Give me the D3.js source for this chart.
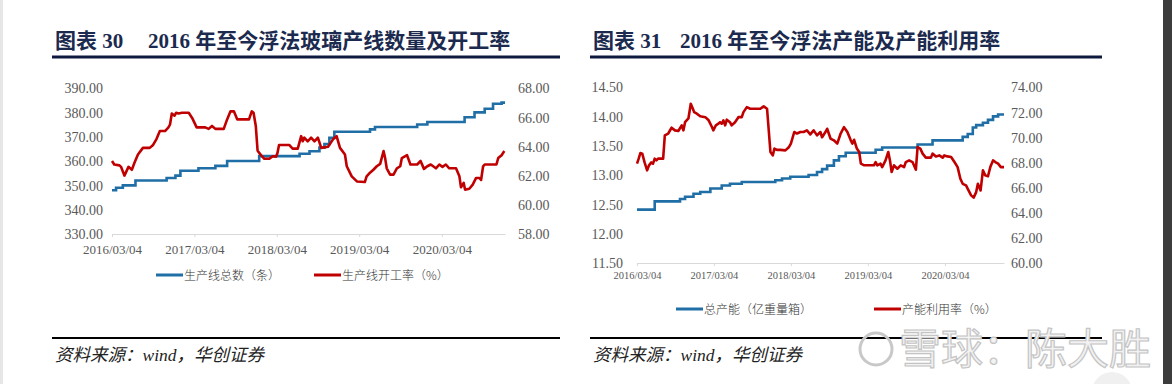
<!DOCTYPE html>
<html lang="zh">
<head>
<meta charset="utf-8" />
<title>浮法玻璃产线及产能</title>
<script src="https://d3js.org/d3.v7.min.js"></script>
<style>
  body{margin:0;background:#fff;}
  svg{display:block;}
  .tick text{fill:#595959;font-family:"Liberation Serif","Times New Roman",serif;}
  .title{font-family:"Liberation Serif","Noto Sans CJK SC",serif;font-weight:700;fill:#1b2a4e;font-size:21px;}
  .legend{font-family:"Noto Sans CJK SC",sans-serif;font-weight:300;font-size:12px;fill:#333;}
  .source{font-family:"Liberation Serif","Noto Sans CJK SC",serif;font-style:italic;font-size:17.5px;fill:#222;}
</style>
</head>
<body>
<svg id="chart" width="1172" height="384"></svg>
<script>
// ---------- DATA ----------
const X_TICKS = ['2016-03-04','2017-03-04','2018-03-04','2019-03-04','2020-03-04'];
const START_DATE = '2016-03-04', END_DATE = '2020-12-09';

// 图表30: 生产线总数（条） — step series [date, value]
const lineCount = [
  ['2016-03-04',348],['2016-03-22',349],['2016-04-21',350],['2016-06-16',352],['2016-11-01',353],
  ['2016-12-10',354],['2017-01-01',356],['2017-03-22',357],['2017-06-05',358],['2017-07-27',360],
  ['2017-12-16',362],['2018-06-13',363],['2018-07-27',364],['2018-09-09',365.5],['2018-10-01',367],
  ['2018-10-23',369.5],['2018-11-14',372],['2019-04-21',373],['2019-05-13',374],['2019-11-16',375],
  ['2019-12-31',376],['2020-06-13',378],['2020-07-27',380],['2020-09-10',381.5],['2020-10-17',383.5],
  ['2020-11-24',384],['2020-12-09',384]
];
// 图表30: 生产线开工率（%）
const lineRate = [
  ['2016-03-04',63.0],['2016-03-14',62.76],['2016-04-06',62.7],['2016-04-13',62.6],['2016-04-28',62.0],
  ['2016-05-16',62.6],['2016-05-31',62.4],['2016-06-12',62.9],['2016-06-27',63.45],['2016-07-19',63.9],
  ['2016-08-18',63.9],['2016-09-02',64.1],['2016-09-17',64.5],['2016-10-02',65.05],['2016-10-25',65.05],
  ['2016-11-09',65.3],['2016-11-16',65.5],['2016-11-24',66.25],['2016-12-06',66.1],['2016-12-13',66.3],
  ['2016-12-24',66.25],['2017-01-08',66.3],['2017-02-07',66.3],['2017-02-22',65.95],['2017-03-14',65.3],
  ['2017-04-21',65.3],['2017-05-06',65.2],['2017-05-21',65.4],['2017-06-05',65.2],['2017-07-12',65.2],
  ['2017-07-27',65.85],['2017-08-11',66.4],['2017-08-26',66.4],['2017-09-10',65.85],['2017-11-01',65.85],
  ['2017-11-13',66.4],['2017-11-21',66.3],['2017-12-01',65.4],['2017-12-09',63.7],['2017-12-24',63.4],
  ['2018-01-08',63.15],['2018-01-30',63.15],['2018-02-14',63.33],['2018-03-01',63.3],['2018-03-07',63.55],
  ['2018-03-14',64.1],['2018-04-28',64.1],['2018-05-13',63.85],['2018-06-05',63.85],['2018-06-20',64.7],
  ['2018-06-27',64.35],['2018-07-04',64.6],['2018-07-19',64.35],['2018-08-03',64.6],['2018-08-18',64.35],
  ['2018-09-02',64.6],['2018-09-17',63.9],['2018-10-17',63.97],['2018-11-09',64.5],['2018-11-24',64.7],
  ['2018-12-09',63.9],['2018-12-31',63.45],['2019-01-08',62.64],['2019-01-30',61.95],['2019-02-22',61.6],
  ['2019-03-29',61.56],['2019-04-06',61.95],['2019-04-21',62.2],['2019-05-06',62.4],['2019-05-21',62.64],
  ['2019-06-05',62.8],['2019-06-20',63.68],['2019-06-27',63.2],['2019-07-04',62.5],['2019-07-19',62.07],
  ['2019-08-03',62.07],['2019-08-18',62.5],['2019-09-02',62.64],['2019-09-09',63.2],['2019-10-02',63.4],
  ['2019-10-17',62.76],['2019-11-16',62.76],['2019-12-01',63.0],['2019-12-16',62.46],['2019-12-31',62.64],
  ['2020-01-15',62.76],['2020-02-07',62.5],['2020-02-22',62.76],['2020-03-07',62.6],['2020-03-22',62.76],
  ['2020-04-06',62.5],['2020-05-06',62.5],['2020-05-21',61.95],['2020-05-28',61.2],['2020-06-09',61.5],
  ['2020-06-15',61.04],['2020-07-04',61.1],['2020-07-19',61.38],['2020-08-03',61.84],['2020-08-18',61.84],
  ['2020-08-25',61.7],['2020-09-03',62.64],['2020-09-10',62.76],['2020-10-17',62.76],['2020-11-01',62.76],
  ['2020-11-09',63.2],['2020-11-24',63.4],['2020-12-06',63.68]
];
// 图表31: 总产能（亿重量箱） — step series
const capacity = [
  ['2016-03-04',12.41],['2016-05-27',12.55],['2016-09-24',12.59],['2016-10-18',12.63],['2016-11-27',12.68],
  ['2016-12-29',12.71],['2017-02-15',12.77],['2017-04-10',12.82],['2017-05-19',12.85],['2017-07-14',12.88],
  ['2017-12-20',12.91],['2018-01-21',12.94],['2018-03-01',12.97],['2018-05-27',13.0],['2018-07-06',13.05],
  ['2018-07-30',13.1],['2018-08-23',13.16],['2018-09-24',13.25],['2018-10-18',13.32],['2018-11-19',13.38],
  ['2019-04-10',13.43],['2019-05-11',13.47],['2019-10-26',13.52],['2020-01-05',13.59],['2020-05-27',13.65],
  ['2020-06-20',13.7],['2020-07-14',13.81],['2020-07-30',13.85],['2020-08-31',13.89],['2020-09-24',13.94],
  ['2020-10-18',14.0],['2020-11-11',14.03],['2020-12-09',14.03]
];
// 图表31: 产能利用率（%）
const capRate = [
  ['2016-03-04',67.9],['2016-03-12',68.3],['2016-03-20',68.75],['2016-03-29',68.7],['2016-04-09',68.0],
  ['2016-04-21',67.37],['2016-04-30',67.77],['2016-05-11',68.0],['2016-05-19',67.9],['2016-05-27',68.3],
  ['2016-06-04',68.16],['2016-06-12',68.3],['2016-07-06',68.3],['2016-07-14',70.15],['2016-07-30',70.3],
  ['2016-08-15',70.76],['2016-08-31',70.55],['2016-09-16',70.5],['2016-10-02',70.95],['2016-10-10',70.55],
  ['2016-10-18',71.2],['2016-11-03',71.5],['2016-11-14',72.67],['2016-11-24',72.27],['2016-11-30',72.0],
  ['2016-12-13',71.88],['2016-12-29',71.67],['2017-01-22',71.6],['2017-02-07',71.35],['2017-02-23',70.8],
  ['2017-03-01',70.55],['2017-03-13',70.95],['2017-03-25',71.08],['2017-04-02',71.2],['2017-04-10',71.08],
  ['2017-04-18',71.35],['2017-04-26',70.95],['2017-05-04',71.4],['2017-05-19',71.2],['2017-05-27',70.95],
  ['2017-06-12',71.2],['2017-06-28',71.6],['2017-07-14',71.6],['2017-07-22',72.0],['2017-08-07',72.4],
  ['2017-08-23',72.27],['2017-10-10',72.27],['2017-10-26',72.46],['2017-11-11',72.27],['2017-11-27',68.83],
  ['2017-12-08',68.56],['2017-12-16',69.1],['2017-12-28',69.0],['2018-01-13',69.0],['2018-02-06',68.96],
  ['2018-02-22',69.2],['2018-03-04',69.5],['2018-03-20',70.42],['2018-04-02',70.3],['2018-04-18',70.42],
  ['2018-05-03',70.42],['2018-05-19',70.55],['2018-06-04',70.23],['2018-06-20',70.55],['2018-07-06',70.15],
  ['2018-07-22',70.42],['2018-07-30',70.0],['2018-08-15',70.42],['2018-08-23',70.68],['2018-09-08',69.9],
  ['2018-09-24',69.76],['2018-10-10',69.5],['2018-10-26',70.3],['2018-11-11',70.8],['2018-11-27',70.42],
  ['2018-12-13',69.76],['2018-12-21',69.5],['2018-12-29',69.8],['2019-01-11',69.1],['2019-01-22',68.83],
  ['2019-01-30',67.9],['2019-02-15',67.77],['2019-04-02',67.77],['2019-04-10',68.03],['2019-04-18',67.77],
  ['2019-05-03',67.9],['2019-05-11',67.63],['2019-05-27',68.16],['2019-06-09',68.83],['2019-06-17',68.16],
  ['2019-06-25',67.24],['2019-07-06',67.77],['2019-07-22',67.5],['2019-08-07',67.77],['2019-08-23',67.63],
  ['2019-08-31',68.03],['2019-09-16',68.16],['2019-10-02',68.03],['2019-10-18',67.42],['2019-10-26',69.22],
  ['2019-11-08',69.1],['2019-11-19',68.7],['2019-12-04',68.38],['2019-12-28',68.38],['2020-01-05',68.7],
  ['2020-01-21',68.48],['2020-02-06',68.56],['2020-02-22',68.38],['2020-03-01',68.56],['2020-03-16',68.48],
  ['2020-04-02',68.43],['2020-04-18',68.03],['2020-05-03',67.63],['2020-05-16',66.7],['2020-05-27',66.3],
  ['2020-06-12',66.17],['2020-06-20',65.9],['2020-07-06',65.38],['2020-07-18',65.2],['2020-07-30',65.64],
  ['2020-08-07',66.3],['2020-08-20',65.77],['2020-08-31',67.37],['2020-09-11',66.97],['2020-09-24',66.9],
  ['2020-10-05',67.63],['2020-10-18',68.16],['2020-10-29',68.03],['2020-11-11',67.9],['2020-11-24',67.63],
  ['2020-12-09',67.63]
];

const LEFT_Y_TICKS_30 = [330,340,350,360,370,380,390];
const RIGHT_Y_TICKS_30 = [58,60,62,64,66,68];
const LEFT_Y_TICKS_31 = [11.5,12,12.5,13,13.5,14,14.5];
const RIGHT_Y_TICKS_31 = [60,62,64,66,68,70,72,74];

const BLUE = '#1f6ea6', RED = '#c00000';
const parse = d3.timeParse('%Y-%m-%d');
const fmtDate = d3.timeFormat('%Y/%m/%d');

const svg = d3.select('#chart');

// ---------- PANEL ----------
function drawPanel(p){
  const g = svg.append('g');
  // title + rule
  g.append('text').attr('class','title').attr('x',p.left).attr('y',48).text(p.titleA);
  g.append('text').attr('class','title').attr('x',p.titleBX).attr('y',48).text(p.titleB);
  g.append('line').attr('x1',p.left-3).attr('x2',p.ruleEnd).attr('y1',57).attr('y2',57)
    .attr('stroke','#0e1a3d').attr('stroke-width',3);

  const x = d3.scaleTime().domain([parse(START_DATE),parse(END_DATE)]).range([p.x0,p.x1]);
  const yL = d3.scaleLinear().domain(d3.extent(p.lTicks)).range([p.yB,p.yT]);
  const yR = d3.scaleLinear().domain(d3.extent(p.rTicks)).range([p.yB,p.yT]);

  const xa = g.append('g').attr('transform',`translate(0,${p.yB})`)
    .call(d3.axisBottom(x).tickValues(X_TICKS.map(parse)).tickFormat(fmtDate).tickSize(3).tickSizeOuter(0).tickPadding(p.xPad));
  xa.selectAll('path,line').attr('stroke','#d9d9d9');
  xa.selectAll('text').style('font-size',p.xFont+'px');

  const la = g.append('g').attr('transform',`translate(${p.lAxisX},0)`)
    .call(d3.axisLeft(yL).tickValues(p.lTicks).tickFormat(d3.format('.2f')).tickSize(0).tickPadding(0));
  la.select('.domain').remove();
  la.selectAll('text').style('font-size',p.yFont+'px').attr('dy','0.35em');

  const ra = g.append('g').attr('transform',`translate(${p.rAxisX},0)`)
    .call(d3.axisRight(yR).tickValues(p.rTicks).tickFormat(d3.format('.2f')).tickSize(0).tickPadding(0));
  ra.select('.domain').remove();
  ra.selectAll('text').style('font-size',p.yFont+'px').attr('dy','0.35em');

  const lineL = d3.line().curve(d3.curveStepAfter).x(d=>x(parse(d[0]))).y(d=>yL(d[1]));
  const lineR = d3.line().x(d=>x(parse(d[0]))).y(d=>yR(d[1]));
  g.append('path').datum(p.blue).attr('fill','none').attr('stroke',BLUE).attr('stroke-width',2.6).attr('d',lineL);
  g.append('path').datum(p.red).attr('fill','none').attr('stroke',RED).attr('stroke-width',2.6)
    .attr('stroke-linejoin','round').attr('d',lineR);

  // legend
  p.legend.forEach((l,i)=>{
    g.append('line').attr('x1',l.x).attr('x2',l.x+27).attr('y1',p.legY).attr('y2',p.legY)
      .attr('stroke',i?RED:BLUE).attr('stroke-width',3);
    g.append('text').attr('class','legend').attr('x',l.x+28).attr('y',p.legY+4.5).text(l.label);
  });

  // bottom rule + source
  g.append('line').attr('x1',p.left-3).attr('x2',p.ruleEnd).attr('y1',338).attr('y2',338)
    .attr('stroke','#000').attr('stroke-width',2);
  g.append('text').attr('class','source').attr('x',p.left).attr('y',361).text('资料来源：wind，华创证券');
}

drawPanel({
  left:55, titleA:'图表 30', titleBX:148, titleB:'2016 年至今浮法玻璃产线数量及开工率', ruleEnd:560,
  x0:112, x1:505, yT:88, yB:234, lAxisX:103, rAxisX:518, xPad:8, xFont:13, yFont:14,
  lTicks:LEFT_Y_TICKS_30, rTicks:RIGHT_Y_TICKS_30, blue:lineCount, red:lineRate,
  legY:275, legend:[{x:156,label:'生产线总数（条）'},{x:314,label:'生产线开工率（%）'}]
});
drawPanel({
  left:593, titleA:'图表 31', titleBX:680, titleB:'2016 年至今浮法产能及产能利用率', ruleEnd:1102,
  x0:637, x1:1004, yT:87, yB:263, lAxisX:623, rAxisX:1011, xPad:6, xFont:10.5, yFont:14,
  lTicks:LEFT_Y_TICKS_31, rTicks:RIGHT_Y_TICKS_31, blue:capacity, red:capRate,
  legY:309, legend:[{x:676,label:'总产能（亿重量箱）'},{x:874,label:'产能利用率（%）'}]
});

// watermark & page edges
svg.append('rect').attr('x',0).attr('y',0).attr('width',3).attr('height',384).attr('fill','#e6e6e6');
svg.append('rect').attr('x',1163).attr('y',0).attr('width',9).attr('height',384).attr('fill','#3c3c3c');
svg.append('circle').attr('cx',876).attr('cy',349).attr('r',16).attr('fill','none').attr('stroke','#c8c8c8').attr('stroke-width',3);
svg.append('text').attr('x',899).attr('y',364).text('雪球：陈大胜')
  .style('font-family','"Noto Sans CJK SC",sans-serif').style('font-size','42px')
  .attr('fill','#f2f2f2').attr('stroke','#c4c4c4').attr('stroke-width',1.2);
svg.append('circle').attr('cx',1112).attr('cy',392).attr('r',20).attr('fill','#f0f0f0');
</script>
</body>
</html>
